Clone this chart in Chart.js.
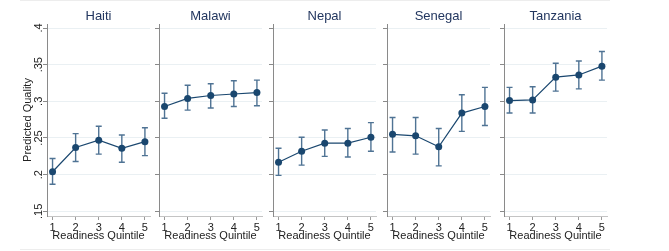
<!DOCTYPE html>
<html>
<head>
<meta charset="utf-8">
<script src="https://cdn.jsdelivr.net/npm/chart.js@4"></script>
<style>
    body { margin: 0; background: #fff; }
    #wrap { position: relative; width: 669px; height: 251px; overflow: hidden; }
    #wrap canvas { position: absolute; left: 0; top: 0; }
    .rule { position: absolute; left: 20px; width: 590px; height: 0; border-top: 1px solid #ededed; }
</style>
</head>
<body>
<div id="wrap">
    <div class="rule" style="top:0"></div>
    <div class="rule" style="top:249px"></div>
    <canvas id="panel0" width="669" height="251"></canvas>
    <canvas id="panel1" width="669" height="251"></canvas>
    <canvas id="panel2" width="669" height="251"></canvas>
    <canvas id="panel3" width="669" height="251"></canvas>
    <canvas id="panel4" width="669" height="251"></canvas>
</div>
<script>
// Data
const countries = ['Haiti', 'Malawi', 'Nepal', 'Senegal', 'Tanzania'];
const quintiles = [1, 2, 3, 4, 5];
const yTicks = [0.15, 0.2, 0.25, 0.3, 0.35, 0.4];

const haitiMean = [0.204, 0.237, 0.247, 0.236, 0.245];
const haitiLow  = [0.187, 0.218, 0.228, 0.217, 0.226];
const haitiHigh = [0.222, 0.256, 0.266, 0.254, 0.264];

const malawiMean = [0.293, 0.304, 0.308, 0.310, 0.312];
const malawiLow  = [0.277, 0.288, 0.291, 0.293, 0.294];
const malawiHigh = [0.311, 0.322, 0.324, 0.328, 0.329];

const nepalMean = [0.217, 0.232, 0.243, 0.243, 0.251];
const nepalLow  = [0.199, 0.213, 0.225, 0.224, 0.232];
const nepalHigh = [0.236, 0.251, 0.261, 0.263, 0.271];

const senegalMean = [0.255, 0.253, 0.238, 0.284, 0.293];
const senegalLow  = [0.231, 0.228, 0.212, 0.259, 0.267];
const senegalHigh = [0.278, 0.278, 0.263, 0.309, 0.319];

const tanzaniaMean = [0.301, 0.302, 0.333, 0.336, 0.348];
const tanzaniaLow  = [0.284, 0.284, 0.314, 0.317, 0.329];
const tanzaniaHigh = [0.319, 0.320, 0.352, 0.355, 0.368];

const means = [haitiMean, malawiMean, nepalMean, senegalMean, tanzaniaMean];
const lows = [haitiLow, malawiLow, nepalLow, senegalLow, tanzaniaLow];
const highs = [haitiHigh, malawiHigh, nepalHigh, senegalHigh, tanzaniaHigh];

// Layout: left edge of each panel's plot area, and plot width
const panelLeft = [47, 159, 273, 387, 504];
const plotWidth = 103;
const axisWidth = 47;

const FONT = '"Liberation Sans", Arial, sans-serif';
const NAVY = '#1a476f';
const CI_COLOR = '#4f7394';
const TITLE_COLOR = '#22365f';

// Draws the capped confidence intervals behind the line and markers
const errorBars = {
    id: 'errorBars',
    beforeDatasetsDraw(chart) {
        const ds = chart.data.datasets[0];
        const xs = chart.scales.x;
        const ys = chart.scales.y;
        const c = chart.ctx;
        c.save();
        c.strokeStyle = CI_COLOR;
        c.lineWidth = 1.4;
        ds.data.forEach((p, k) => {
            const x = xs.getPixelForValue(p.x);
            const lo = ys.getPixelForValue(ds.ciLow[k]);
            const hi = ys.getPixelForValue(ds.ciHigh[k]);
            c.beginPath();
            c.moveTo(x, lo); c.lineTo(x, hi);
            c.moveTo(x - 3, lo); c.lineTo(x + 3, lo);
            c.moveTo(x - 3, hi); c.lineTo(x + 3, hi);
            c.stroke();
        });
        c.restore();
    }
};

// Country name centred over each panel
const panelTitle = {
    id: 'panelTitle',
    afterDraw(chart, args, opts) {
        const a = chart.chartArea;
        const c = chart.ctx;
        c.save();
        c.font = '13px ' + FONT;
        c.fillStyle = TITLE_COLOR;
        c.textAlign = 'center';
        c.textBaseline = 'middle';
        c.fillText(opts.text, (a.left + a.right) / 2, 16.5);
        c.restore();
    }
};

function makePanel(i) {
    const first = i === 0;
    const ctx = document.getElementById('panel' + i).getContext('2d');

    new Chart(ctx, {
        type: 'line',
        data: {
            datasets: [{
                data: quintiles.map((q, k) => ({ x: q, y: means[i][k] })),
                ciLow: lows[i],
                ciHigh: highs[i],
                borderColor: NAVY,
                borderWidth: 1.2,
                pointRadius: 3.5,
                pointBorderWidth: 0,
                pointBackgroundColor: NAVY,
                tension: 0
            }]
        },
        options: {
            responsive: false,
            animation: false,
            layout: {
                padding: {
                    left: panelLeft[i] - axisWidth,
                    right: 669 - panelLeft[i] - plotWidth,
                    top: 24,
                    bottom: 0
                }
            },
            plugins: {
                legend: { display: false },
                tooltip: { enabled: false },
                panelTitle: { text: countries[i] }
            },
            scales: {
                x: {
                    type: 'linear',
                    min: 0.76,
                    max: 5.22,
                    afterBuildTicks: s => { s.ticks = quintiles.map(v => ({ value: v })); },
                    afterFit: s => { s.height = 35; s.paddingLeft = 0; s.paddingRight = 0; },
                    border: { color: '#c4c4c4', width: 1 },
                    grid: { drawOnChartArea: false, tickLength: 4, tickColor: '#9a9a9a' },
                    ticks: { color: '#222', padding: 1, maxRotation: 0, font: { size: 11, family: FONT } },
                    title: {
                        display: true,
                        text: 'Readiness Quintile',
                        color: '#222',
                        font: { size: 11, family: FONT },
                        padding: { top: 0, bottom: 8 }
                    }
                },
                y: {
                    min: 0.1436,
                    max: 0.4055,
                    afterBuildTicks: s => { s.ticks = yTicks.map(v => ({ value: v })); },
                    afterFit: s => { s.width = axisWidth; s.paddingTop = 0; s.paddingBottom = 0; },
                    border: { color: '#8a8a8a', width: 1 },
                    grid: { color: '#eaf0f3', lineWidth: 1, tickLength: 4, tickColor: '#8a8a8a' },
                    ticks: {
                        display: first,
                        minRotation: 90,
                        maxRotation: 90,
                        crossAlign: 'center',
                        padding: -4,
                        color: '#222',
                        font: { size: 11, family: FONT },
                        callback: v => String(v).replace(/^0/, '')
                    },
                    title: {
                        display: first,
                        text: 'Predicted Quality',
                        color: '#222',
                        font: { size: 11, family: FONT },
                        padding: { top: 21, bottom: 0 }
                    }
                }
            }
        },
        plugins: [errorBars, panelTitle]
    });
}

countries.forEach((name, i) => makePanel(i));
</script>
</body>
</html>
